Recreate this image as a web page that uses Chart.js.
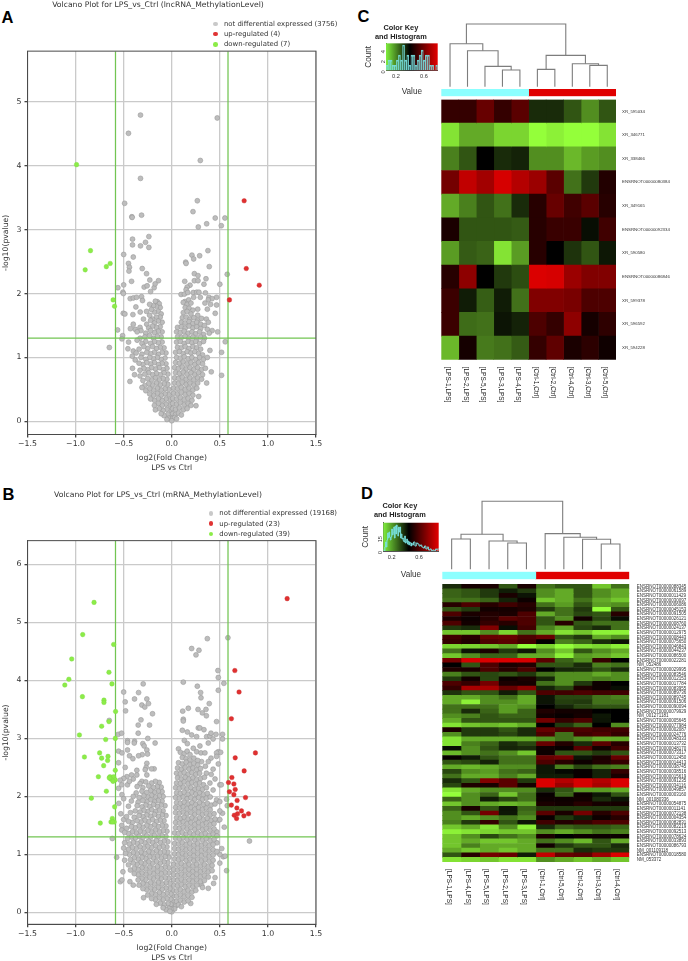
<!DOCTYPE html>
<html><head><meta charset="utf-8">
<script src="https://cdn.jsdelivr.net/npm/chart.js@4/dist/chart.umd.js"></script>
<style>
html,body{margin:0;padding:0;background:#fff;width:688px;height:961px;overflow:hidden}
canvas{position:absolute}
.t{position:absolute;white-space:nowrap;color:#333;font:6.9px "DejaVu Sans"}
.p{position:absolute;color:#000;font:bold 16.5px "Liberation Sans";line-height:16.5px}
.d{position:absolute;width:4.6px;height:4.6px;border-radius:50%}
</style></head><body>
<div class="p" style="left:1.5px;top:9px">A</div>
<div class="p" style="left:2.5px;top:486px">B</div>
<div class="p" style="left:357.5px;top:7.5px">C</div>
<div class="p" style="left:361px;top:485px">D</div>
<script>
const foldCut=[-0.585,0.585], pCut=1.301;
const xTicks=[-1.5,-1,-0.5,0,0.5,1,1.5];
const legendA=['not differential expressed (3756)','up-regulated (4)','down-regulated (7)'];
const legendB=['not differential expressed (19168)','up-regulated (23)','down-regulated (39)'];
const titleA='Volcano Plot for LPS_vs_Ctrl (lncRNA_MethylationLevel)';
const titleB='Volcano Plot for LPS_vs_Ctrl (mRNA_MethylationLevel)';
const aUp=[.753,3.45,.775,2.39,.91,2.13,.6,1.9];
const aDown=[-.99,4.015,-.845,2.67,-.9,2.37,-.68,2.42,-.64,2.47,-.61,1.9,-.595,1.8];
const aGrey=[-.325,4.79,-.45,4.505,.473,4.745,.297,4.08,-.325,3.8,.266,3.45,-.49,3.41,.221,3.28,-.415,3.2,-.412,3.19,-.314,3.225,.452,3.18,.553,3.18,.363,3.09,.515,3.06,.276,3.04,-.408,2.85,-.238,2.89,
-.408,2.76,-.325,2.745,-.273,2.8,-.238,2.72,-.5,2.61,-.4,2.57,-.45,2.47,-.44,2.41,-.445,2.35,-.307,2.39,-.262,2.31,-.418,2.19,-.228,2.21,-.138,2.2,-.5,2.135,-.56,2.09,-.287,2.1,-.256,2.12,-.183,2.09,-.173,2.15,-.508,2.02,-.503,2,-.22,2.03,-.314,1.95,-.432,1.92,-.4,1.93,-.366,1.94,-.304,1.89,
.376,2.67,.21,2.6,.29,2.59,.228,2.54,.145,2.49,.149,2.47,.39,2.42,.577,2.3,.235,2.31,.273,2.28,.356,2.23,.135,2.19,.235,2.2,.273,2.2,.335,2.145,.5,2.145,.19,2.13,.16,2.1,.149,2.06,.097,1.985,.131,1.99,.166,2.015,.224,2.015,.26,2.02,.283,2.02,.35,2.01,.297,1.94,.466,1.94,.387,1.94,.42,1.92,.38,1.9,.138,1.875,.176,1.9,.228,1.94,.345,1.85,.404,1.83,.466,1.82,.37,1.755,.452,1.69,.27,1.755,
-.504,1.69,-.487,1.68,-.404,1.67,-.373,1.79,-.328,1.71,-.262,1.72,-.294,1.6,-.563,1.43,-.511,1.34,-.518,1.29,-.649,1.155,-.449,1.24,-.456,1.135,-.435,.625,-.408,.83,-.387,.73,.477,1.4,.556,1.245,.518,1.08,.518,.72,.397,1.11,.411,.775,.363,.6,.252,.245,.28,.39,
-.15,1.87,-.13,1.84,-.17,1.88,-.12,1.78,-.16,1.8,-.19,1.81,-.23,1.83,-.14,1.72,-.18,1.71,-.21,1.75,-.11,1.68,-.12,1.63,-.16,1.63,-.2,1.6,-.23,1.66,-.1,1.55,-.14,1.57,-.18,1.54,-.22,1.58,-.26,1.52,
-.12,1.48,-.16,1.47,-.2,1.49,-.24,1.46,-.33,1.47,-.38,1.44,-.4,1.52,-.1,1.4,-.14,1.41,-.18,1.39,-.22,1.42,-.27,1.38,-.32,1.42,-.36,1.4,-.43,1.45,-.11,1.32,-.15,1.33,-.19,1.3,-.23,1.34,-.28,1.32,-.33,1.3,-.1,1.24,-.14,1.23,-.18,1.25,-.22,1.22,-.27,1.25,-.31,1.22,-.36,1.27,
-.08,1.15,-.12,1.16,-.16,1.14,-.2,1.17,-.25,1.14,-.29,1.17,-.34,1.13,-.4,1.1,-.06,1.07,-.1,1.08,-.14,1.05,-.18,1.08,-.22,1.06,-.26,1.08,-.31,1.05,-.37,1.07,-.07,.99,-.11,.97,-.15,1,-.19,.98,-.23,1,-.27,.97,-.32,1,-.41,1.02,-.38,.96,
-.06,.9,-.1,.91,-.14,.89,-.18,.92,-.22,.9,-.26,.92,-.3,.89,-.34,.91,-.05,.83,-.09,.81,-.13,.84,-.17,.82,-.21,.84,-.25,.81,-.29,.83,-.33,.8,-.04,.74,-.08,.76,-.12,.73,-.16,.75,-.2,.73,-.24,.76,-.28,.74,-.33,.71,
-.05,.66,-.09,.67,-.13,.65,-.17,.68,-.21,.65,-.25,.67,-.3,.64,-.04,.58,-.08,.59,-.12,.57,-.16,.6,-.2,.57,-.24,.59,-.28,.56,-.03,.5,-.07,.51,-.11,.49,-.15,.52,-.19,.49,-.23,.51,-.27,.48,-.31,.53,
-.03,.42,-.07,.43,-.11,.41,-.15,.44,-.19,.41,-.23,.43,-.02,.34,-.06,.35,-.1,.33,-.14,.36,-.18,.33,-.22,.35,-.02,.26,-.06,.27,-.1,.25,-.14,.28,-.18,.25,-.01,.18,-.05,.19,-.09,.17,-.13,.2,-.17,.18,-.01,.1,-.04,.11,-.08,.09,-.11,.12,-.01,.04,-.03,.05,-.05,.03,
.12,1.86,.16,1.83,.2,1.85,.14,1.78,.18,1.77,.22,1.74,.12,1.7,.16,1.72,.2,1.68,.27,1.66,.11,1.62,.15,1.63,.19,1.6,.23,1.62,.27,1.58,.31,1.61,.36,1.6,.38,1.55,.1,1.55,.14,1.54,.18,1.56,.22,1.53,.26,1.55,.3,1.52,.34,1.5,
.06,1.47,.1,1.48,.14,1.46,.18,1.49,.22,1.46,.26,1.48,.3,1.45,.37,1.44,.42,1.42,.05,1.4,.09,1.39,.13,1.41,.17,1.38,.21,1.4,.25,1.37,.29,1.4,.33,1.36,.39,1.38,.06,1.32,.1,1.31,.14,1.33,.18,1.3,.22,1.32,.26,1.29,.3,1.32,.34,1.3,
.05,1.24,.09,1.25,.13,1.22,.17,1.25,.21,1.23,.25,1.25,.29,1.22,.33,1.25,.06,1.16,.1,1.15,.14,1.17,.18,1.14,.22,1.17,.26,1.15,.3,1.13,.04,1.08,.08,1.09,.12,1.06,.16,1.09,.2,1.07,.24,1.09,.28,1.06,.32,1.04,
.05,1,.09,.99,.13,1.01,.17,.98,.21,1,.25,.97,.29,1,.33,.97,.37,1,.04,.92,.08,.91,.12,.93,.16,.9,.2,.92,.24,.89,.28,.92,.32,.9,.03,.84,.07,.83,.11,.85,.15,.82,.19,.84,.23,.81,.27,.84,.31,.81,.35,.83,
.04,.76,.08,.75,.12,.77,.16,.74,.2,.76,.24,.73,.28,.76,.32,.73,.03,.68,.07,.67,.11,.69,.15,.66,.19,.68,.23,.65,.27,.68,.31,.66,.03,.6,.07,.59,.11,.61,.15,.58,.19,.6,.23,.57,.27,.6,.02,.52,.06,.51,.1,.53,.14,.5,.18,.52,.22,.49,.26,.52,
.02,.44,.06,.43,.1,.45,.14,.42,.18,.44,.22,.41,.01,.36,.05,.35,.09,.37,.13,.34,.17,.36,.21,.33,.01,.28,.05,.27,.09,.29,.13,.26,.17,.28,.2,.25,.01,.2,.04,.19,.08,.21,.12,.18,.16,.2,.01,.12,.04,.11,.07,.13,.1,.1,.01,.05,.03,.06,.05,.04,0,.01];
const bUp=[1.2,5.41,.656,4.17,.7,3.8,.62,3.34,.87,2.75,.66,2.665,.753,2.44,.625,2.325,.59,2.24,.646,2.215,.66,2.12,.6,2.08,.646,2.03,.767,1.98,.68,1.93,.62,1.85,.677,1.8,.725,1.75,.798,1.7,.684,1.7,.65,1.675,.75,1.665,.674,1.62];
const bDown=[-.808,5.345,-.926,4.79,-.604,4.62,-1.04,4.37,-.653,4.14,-1.07,4.02,-1.112,3.92,-.622,3.94,-.929,3.72,-.705,3.66,-.705,3.62,-.584,3.465,-.653,3.29,-.729,3.21,-.96,3.06,-.687,2.98,-.587,3,-.75,2.75,-.663,2.69,-.908,2.68,-.729,2.66,-.667,2.62,-.708,2.53,-.587,2.45,-.763,2.34,-.642,2.34,-.604,2.34,-.635,2.3,-.587,2.285,-.611,2.26,-.65,2.32,-.68,2.09,-.836,1.97,-.594,1.82,-.618,1.62,-.743,1.54,-.632,1.56,-.598,1.56,-.615,1.56];
const bGrey=[.37,4.72,.584,4.735,.207,4.55,.283,4.52,.252,4.44,.48,4.17,.484,4.05,.542,3.95,.12,3.97,.266,3.9,.484,3.83,.3,3.79,.304,3.7,.39,3.6,.172,3.52,.114,3.47,.273,3.5,.356,3.5,.318,3.44,.36,3.39,.12,3.33,
-.297,3.94,-.5,3.8,-.345,3.79,-.484,3.63,-.387,3.68,-.259,3.68,-.242,3.6,-.311,3.575,-.28,3.54,-.48,3.475,-.2,3.425,-.32,3.32,-.65,3.31,
-.349,3.23,-.231,3.23,-.556,3.07,-.522,3.09,-.349,3.09,-.249,3,-.46,2.96,-.46,2.93,-.387,2.95,-.39,2.92,-.301,2.91,-.173,2.92,-.287,2.87,-.46,2.8,-.553,2.78,-.518,2.75,-.259,2.8,-.307,2.72,-.345,2.7,-.439,2.7,-.404,2.65,-.252,2.73,-.553,2.58,-.259,2.57,-.363,2.45,-.484,2.5,-.183,2.475,-.21,2.475,-.266,2.5,-.276,2.46,-.418,2.37,-.466,2.34,-.5,2.31,-.535,2.28,-.363,2.37,-.259,2.37,-.311,2.26,-.553,2.14,-.518,2.03,-.46,2.2,-.52,2.2,-.4,2.3,-.44,2.26,-.5,1.96,-.55,1.88,-.53,1.7,-.52,1.5,-.5,1.6,-.52,1.42,-.618,1.275,-.573,.95,-.508,.7,-.535,.53,-.518,.56,-.293,.253,-.435,.53,-.4,.47,
.12,3.3,.466,3.29,.11,3.14,.162,3.11,.276,3.18,.293,3.18,.335,3.15,.207,3.06,.259,3.03,.363,3.03,.397,3.04,.408,3.09,.46,3.07,.528,3.07,.528,2.99,.131,2.965,.162,2.91,.293,2.87,.38,2.92,.43,2.99,.484,2.77,.508,2.76,.466,2.75,.07,2.82,.224,2.83,.259,2.77,.304,2.75,.345,2.75,.408,2.66,.466,2.69,.484,2.56,.43,2.47,.38,2.6,.35,2.52,.31,2.6,.397,2.23,.5,2.2,.515,2.2,.43,2.11,.466,1.94,.5,1.91,.57,1.95,.577,1.84,.528,1.71,.484,1.59,.466,1.39,.546,1.47,.808,1.23,.57,.72,.535,.96,.555,.97,.5,.85,.45,.6,.435,.5,.38,.415,.31,.47,.197,.155,.45,2.3,.41,2.38,.36,2.4,.5,1.6,.5,1.75,.47,1.2,.52,1.1,.5,1,
.09,2.76,.13,2.74,.16,2.78,.19,2.72,.11,2.67,.15,2.65,.19,2.63,.23,2.66,.27,2.62,.07,2.58,.11,2.56,.15,2.59,.19,2.55,.23,2.57,.27,2.54,.06,2.49,.1,2.47,.14,2.5,.18,2.47,.22,2.49,.26,2.46,.3,2.48,.05,2.4,.09,2.39,.13,2.41,.17,2.38,.21,2.41,.25,2.38,.29,2.4,.06,2.32,.1,2.3,.14,2.33,.18,2.3,.22,2.32,.26,2.29,.3,2.31,.34,2.33,
.05,2.23,.09,2.22,.13,2.25,.17,2.22,.21,2.24,.25,2.21,.29,2.23,.33,2.2,.04,2.15,.08,2.14,.12,2.16,.16,2.13,.2,2.15,.24,2.12,.28,2.14,.32,2.12,.36,2.15,.05,2.06,.09,2.05,.13,2.07,.17,2.04,.21,2.07,.25,2.04,.29,2.06,.33,2.03,.37,2.05,.04,1.98,.08,1.97,.12,1.99,.16,1.96,.2,1.98,.24,1.95,.28,1.98,.32,1.95,.36,1.97,.4,1.99,
.05,1.89,.09,1.88,.13,1.9,.17,1.87,.21,1.89,.25,1.86,.29,1.89,.33,1.86,.37,1.88,.41,1.85,.45,1.87,.04,1.81,.08,1.8,.12,1.82,.16,1.79,.2,1.81,.24,1.78,.28,1.81,.32,1.78,.36,1.8,.4,1.77,.04,1.72,.08,1.71,.12,1.73,.16,1.7,.2,1.72,.24,1.69,.28,1.72,.32,1.69,.36,1.71,.4,1.68,.44,1.7,.05,1.63,.09,1.62,.13,1.64,.17,1.61,.21,1.63,.25,1.6,.29,1.63,.33,1.6,.37,1.62,.41,1.59,.45,1.61,
.04,1.55,.08,1.54,.12,1.56,.16,1.53,.2,1.55,.24,1.52,.28,1.55,.32,1.52,.36,1.54,.4,1.51,.44,1.53,.04,1.46,.08,1.45,.12,1.47,.16,1.44,.2,1.46,.24,1.43,.28,1.46,.32,1.43,.36,1.45,.4,1.42,.44,1.44,.03,1.37,.07,1.36,.11,1.38,.15,1.35,.19,1.37,.23,1.34,.27,1.37,.31,1.34,.35,1.36,.39,1.33,.43,1.35,.47,1.32,
.04,1.28,.08,1.27,.12,1.29,.16,1.26,.2,1.28,.24,1.25,.28,1.28,.32,1.25,.36,1.27,.4,1.24,.44,1.26,.03,1.19,.07,1.18,.11,1.2,.15,1.17,.19,1.19,.23,1.16,.27,1.19,.31,1.16,.35,1.18,.39,1.15,.43,1.17,.03,1.1,.07,1.09,.11,1.11,.15,1.08,.19,1.1,.23,1.07,.27,1.1,.31,1.07,.35,1.09,.39,1.06,.43,1.08,.47,1.05,
.03,1.01,.07,1,.11,1.02,.15,.99,.19,1.01,.23,.98,.27,1.01,.31,.98,.35,1,.39,.97,.43,.99,.03,.92,.07,.91,.11,.93,.15,.9,.19,.92,.23,.89,.27,.92,.31,.89,.35,.91,.39,.88,.43,.9,.02,.83,.06,.82,.1,.84,.14,.81,.18,.83,.22,.8,.26,.83,.3,.8,.34,.82,.38,.79,.42,.81,
.02,.74,.06,.73,.1,.75,.14,.72,.18,.74,.22,.71,.26,.74,.3,.71,.34,.73,.38,.7,.42,.72,.02,.65,.06,.64,.1,.66,.14,.63,.18,.65,.22,.62,.26,.65,.3,.62,.34,.64,.38,.61,.02,.56,.06,.55,.1,.57,.14,.54,.18,.56,.22,.53,.26,.56,.3,.53,.34,.55,.02,.47,.06,.46,.1,.48,.14,.45,.18,.47,.22,.44,.26,.47,.32,.43,
.01,.38,.05,.37,.09,.39,.13,.36,.17,.38,.21,.35,.25,.38,.01,.29,.05,.28,.09,.3,.13,.27,.17,.29,.21,.26,.01,.2,.05,.19,.09,.21,.13,.18,.17,.2,.01,.12,.04,.11,.07,.13,.1,.1,.01,.05,.03,.06,0,.01,
-.13,2.24,-.17,2.26,-.21,2.23,-.27,2.25,-.33,2.22,-.11,2.16,-.15,2.17,-.19,2.15,-.24,2.18,-.3,2.15,-.36,2.17,-.1,2.08,-.14,2.09,-.18,2.07,-.22,2.1,-.26,2.07,-.31,2.09,-.37,2.06,-.09,2,-.13,2.01,-.17,1.99,-.21,2.02,-.25,1.99,-.29,2.01,-.34,1.98,-.4,2,
-.1,1.92,-.14,1.93,-.18,1.91,-.22,1.94,-.26,1.91,-.3,1.93,-.35,1.9,-.42,1.92,-.07,1.84,-.11,1.85,-.15,1.83,-.19,1.86,-.23,1.83,-.27,1.85,-.31,1.82,-.36,1.84,-.45,1.83,-.09,1.75,-.13,1.76,-.17,1.74,-.21,1.77,-.25,1.74,-.29,1.76,-.33,1.73,-.38,1.75,-.43,1.72,
-.06,1.67,-.1,1.68,-.14,1.66,-.18,1.69,-.22,1.66,-.26,1.68,-.3,1.65,-.34,1.67,-.39,1.64,-.47,1.65,-.08,1.58,-.12,1.59,-.16,1.57,-.2,1.6,-.24,1.57,-.28,1.59,-.32,1.56,-.36,1.58,-.41,1.55,-.45,1.57,-.06,1.49,-.1,1.5,-.14,1.48,-.18,1.51,-.22,1.48,-.26,1.5,-.3,1.47,-.34,1.49,-.38,1.46,-.42,1.48,-.47,1.45,
-.05,1.4,-.09,1.41,-.13,1.39,-.17,1.42,-.21,1.39,-.25,1.41,-.29,1.38,-.33,1.4,-.37,1.37,-.41,1.39,-.45,1.36,-.49,1.38,-.06,1.31,-.1,1.32,-.14,1.3,-.18,1.33,-.22,1.3,-.26,1.32,-.3,1.29,-.34,1.31,-.38,1.28,-.42,1.3,-.46,1.27,-.04,1.22,-.08,1.23,-.12,1.21,-.16,1.24,-.2,1.21,-.24,1.23,-.28,1.2,-.32,1.22,-.36,1.19,-.4,1.21,-.44,1.18,-.49,1.2,
-.05,1.13,-.09,1.14,-.13,1.12,-.17,1.15,-.21,1.12,-.25,1.14,-.29,1.11,-.33,1.13,-.37,1.1,-.41,1.12,-.45,1.09,-.5,1.11,-.04,1.04,-.08,1.05,-.12,1.03,-.16,1.06,-.2,1.03,-.24,1.05,-.28,1.02,-.32,1.04,-.36,1.01,-.4,1.03,-.44,1,-.48,1.02,-.03,.95,-.07,.96,-.11,.94,-.15,.97,-.19,.94,-.23,.96,-.27,.93,-.31,.95,-.35,.92,-.39,.94,-.43,.91,-.49,.9,
-.04,.86,-.08,.87,-.12,.85,-.16,.88,-.2,.85,-.24,.87,-.28,.84,-.32,.86,-.36,.83,-.4,.85,-.45,.82,-.03,.77,-.07,.78,-.11,.76,-.15,.79,-.19,.76,-.23,.78,-.27,.75,-.31,.77,-.35,.74,-.39,.76,-.43,.73,-.03,.68,-.07,.69,-.11,.67,-.15,.7,-.19,.67,-.23,.69,-.27,.66,-.31,.68,-.35,.65,-.39,.67,-.03,.59,-.07,.6,-.11,.58,-.15,.61,-.19,.58,-.23,.6,-.27,.57,-.31,.59,-.35,.56,
-.02,.5,-.06,.51,-.1,.49,-.14,.52,-.18,.49,-.22,.51,-.26,.48,-.3,.5,-.34,.47,-.02,.41,-.06,.42,-.1,.4,-.14,.43,-.18,.4,-.22,.42,-.26,.39,-.3,.41,-.01,.32,-.05,.33,-.09,.31,-.13,.34,-.17,.31,-.21,.33,-.25,.3,-.01,.23,-.05,.24,-.09,.22,-.13,.25,-.17,.22,-.21,.24,-.01,.14,-.04,.15,-.08,.13,-.12,.16,-.16,.14,-.01,.06,-.03,.07,-.06,.05,-.09,.08,-.02,.02];
const rowsC=['XR_595034','XR_346771','XR_338466','ENSRNOT00000080384','XR_349165','ENSRNOT00000092334','XR_590580','ENSRNOT00000086846','XR_599378','XR_596592','XR_594228'];
const colsC=['[LPS-1,LPS]','[LPS-2,LPS]','[LPS-5,LPS]','[LPS-3,LPS]','[LPS-4,LPS]','[Ctrl-1,Ctrl]','[Ctrl-2,Ctrl]','[Ctrl-4,Ctrl]','[Ctrl-3,Ctrl]','[Ctrl-5,Ctrl]'];
const heatC=[
[2,2,4,2,3.5,-1.5,-1.5,-3,-5,-3],
[-8,-6,-6,-7.5,-7.5,-9,-8.5,-9,-9,-8],
[-4.5,-3,0,-1.5,-1.2,-5,-5,-6.5,-5.5,-5],
[4.5,7.5,6.3,8.3,7,6,3.5,-4,-2,1.3],
[-6,-4.5,-3,-4,-1.5,1.5,4,2.5,3.5,1.5],
[1,-3,-3,-3,-3.2,1.5,2.2,2.2,-.5,2.5],
[-5.5,-3.2,-3.5,-8,-5.5,1.5,0,-1.8,-3,-.8],
[1.5,5.5,0,-2,-2.7,8.5,8.3,6,5,5],
[2.3,-1,-3.3,-1,-4,5,5,4.7,3,3],
[2.3,-3.8,-4,-.7,-1.2,3,2,5.5,.8,1.8],
[-6.5,.8,-4.3,-4,-3.2,2,3.7,1,1.7,.6]];
const rowsD=['ENSRNOT00000088345','ENSRNOT00000061589','ENSRNOT00000011429','ENSRNOT00000030097','ENSRNOT00000006086','ENSRNOT00000045153','ENSRNOT00000091505','ENSRNOT00000026121','ENSRNOT00000008760','ENSRNOT00000024137','ENSRNOT00000012975','ENSRNOT00000008443','ENSRNOT00000075650','ENSRNOT00000046843','ENSRNOT00000044237','ENSRNOT00000086500','ENSRNOT00000022281','NM_052486','ENSRNOT00000029995','ENSRNOT00000083546','ENSRNOT00000012153','ENSRNOT00000017784','ENSRNOT00000083955','ENSRNOT00000089736','ENSRNOT00000089745','ENSRNOT00000091506','ENSRNOT00000090094','ENSRNOT00000079929','NM_001271181','ENSRNOT00000005645','ENSRNOT00000077984','ENSRNOT00000002087','ENSRNOT00000024776','ENSRNOT00000048333','ENSRNOT00000013732','ENSRNOT00000048170','ENSRNOT00000073317','ENSRNOT00000012450','ENSRNOT00000014413','ENSRNOT00000038745','ENSRNOT00000038516','ENSRNOT00000015619','ENSRNOT00000091235','ENSRNOT00000034116','ENSRNOT00000049857','ENSRNOT00000003160','NM_001080336','ENSRNOT00000054875','ENSRNOT00000011141','ENSRNOT00000072138','ENSRNOT00000004354','ENSRNOT00000082831','ENSRNOT00000082219','ENSRNOT00000092513','ENSRNOT00000078624','ENSRNOT00000033893','ENSRNOT00000086793','NM_001109118','ENSRNOT00000018580','NM_053372'];
const colsD=['[LPS-1,LPS]','[LPS-4,LPS]','[LPS-5,LPS]','[LPS-2,LPS]','[LPS-3,LPS]','[Ctrl-1,Ctrl]','[Ctrl-5,Ctrl]','[Ctrl-2,Ctrl]','[Ctrl-3,Ctrl]','[Ctrl-4,Ctrl]'];
const heatD=[
[-1.5,.8,1,-3,1,-4,-3,-3,-7,-4],
[-3.5,-3,-2,-1,-2,-5,-6,-3,-5,-6],
[-3.5,-3,-2,1,-.7,-5,-6,-3,-5,-6],
[-4,-4,-3.5,-1.2,.5,-7,-6,-4,-6,-7],
[1.5,3,1.5,2.5,1.5,-4,-5.5,-3,-5.5,-5],
[-3,-2,.7,.8,1.2,-2,-4,-2,-9,-3],
[3,1,1.3,1,3,-6,-4,-2.5,-3,1.5],
[1,.5,1.5,3.5,3,-3,-5,.7,-2.5,-.5],
[3,.7,2,1.5,3,-3,1.5,-3,-4,-4],
[-2,-1.5,5,-.5,2.5,-4.5,-6,-2.5,-1.5,-4],
[-7,-7,-5,-7.5,-4,-6,-8,-7,-8.5,-8.5],
[2.5,1.5,4,4,3,4,-3,-2,-6,-5],
[2,1.2,3,3.5,2.5,0,-4.5,-3.5,-1.5,-.7],
[-7.5,-7.5,-7,-6,-9,-7.5,-9.5,-8,-7.5,-8.5],
[-4,-.7,1,-2,-.8,-5,-7,-3,-5,-6],
[-7,-5,-3.5,-3.5,-6,-6,-8.5,-5.5,-6,-7],
[4.5,8.3,8.5,8.5,8.3,3.5,-3.5,-5,2,0],
[0,-3,3,1,1.3,-3,-3,-1.5,-4.5,-4],
[1.2,1,3,1.5,3,0,-1.3,-1.5,-3,-1.5],
[-4.5,-3,-2.5,-3,-2,-4,-5,-5,-6,-5],
[-2,.7,-2.5,.5,1,-1.3,-5,-5,-4.5,-5],
[3,2,4.5,1,.8,-4,-5,-2,.5,0],
[2,6.5,6.5,4,5.5,-1.2,-2.5,1.2,.5,-.5],
[-1.8,-3,-3,-1,-3,3,2.5,3,2.5,2.5],
[-6,-6,-5,-4,-6,-.7,-2.5,-2.5,-4,-4.5],
[-6,-8.5,-5,-5,-6,-.7,-2.2,-2,-4,-4],
[-4,-4,-4,-5.5,-5,0,-1.3,-2.5,-3,-3],
[-4,-1.5,-3.5,-5.5,-3.5,1.2,.7,.7,0,0],
[-5,-4.5,-3,-3.5,-3.5,.7,.3,.8,-.8,0],
[-6,-3,-3,-3,-3,4.5,2,3,-.7,0],
[-8,-7,-6.5,-7,-6,0,-2,-3.5,0,-5],
[1,-2,-2,-3,-1.5,4,2.8,3,2.5,2.5],
[-5,-2,-2,-2.5,-1.5,3,-4,2.5,3,2],
[-8,-6,-6,-6,-6,-5,-4,-5,-6,-6],
[-8,-4.5,-3.5,-1.5,-2.5,4,1.3,-1.5,3.5,1.5],
[-.5,-5,-3,-1.3,-1.5,.6,.3,3.5,.7,2.5],
[-6.5,-5,-4,-5,-7,.5,-3,-3,-2,-3],
[.3,-1,-3,-4,-4,4,4.5,-.7,1,4],
[-3,-2.5,-1.2,-4,-4,3,1.5,.5,1.2,2],
[-6,-6.5,-6,-5,-5,-.8,-4.5,-2.5,-4,-4.5],
[-2.5,-5,-5.5,-4,-3.5,-.8,-.3,.3,-1.2,2],
[-4,-6,-6,-4.5,-6,-1,-1,.3,-1.2,1],
[-1.5,-3,5,3.5,-2,8.5,7,8.3,7,8.5],
[-2.5,1.2,1,3.5,.8,8.5,6,8.3,6.5,8.5],
[-8,-6,-5,-5,-5,-1.5,-3,-5.5,-5.5,-6],
[-9.5,-5,-3.5,-7,-4,.3,-3.5,.5,-.8,-3],
[-3.5,-5,-1,-2.5,-4,.5,.5,.7,-1.5,-.7],
[-7,-5,-6,-6.5,-6,1,.7,1.5,.8,.8],
[-3.5,1,-3,-.7,-3.5,-2,-2,-2,-2,-2],
[-5,-3,4.5,-.8,-4,3.5,1,4.5,1.5,3],
[-5,-6,-5,-4,-5,.4,-2,-1,.5,1.5],
[-4.5,-2,2,-3,-.8,2.5,1.3,2,3,3],
[-7,-6,-8,-5,-8.5,-1.5,-3.5,-3,-3,-3.5],
[-8.5,-8,-7.5,-7,-7,-5,-6,-5,-4,-4.5],
[-7,-5,-2.5,-4,-5,1,0,.5,.5,.5],
[-7,-6,-7,-7,-6,-4,-5,-6.5,-3,-6],
[-7,-4.5,-6,-6,-6,.7,-2,-3,-3,-1.5],
[-6,-7,-6,-7,-6,-4,-4,-1.5,-2,-2],
[-3,1.5,4.5,4,-1,7.5,4,3.5,6,8.5],
[-8,-7.5,-7,-8,-8,-5,-6,-7,-6,-7]];
// merges: [child, child, height]; child >=0 is a leaf, child <0 is merge -(n+1)
const dendroC=[[3,4,50],[2,-1,61],[1,-2,108],[0,-3,129],[5,6,52],[8,9,64],[7,-6,69],[-5,-7,94],[-4,-8,188]];
const dendroD=[[0,1,91],[3,4,79],[2,-2,85],[-1,-3,105],[8,9,76],[7,-5,90],[6,-6,96],[5,-7,107],[-4,-8,204]];
const histBinsC=[.072,.101,.131,.16,.19,.22,.249,.279,.308,.338,.368,.397,.427,.456,.486,.516,.545,.575,.604,.634,.664,.693,.723,.752,.782];
const histCountsC=[1,2,2,1,1,2,3,2,5,2,3,1,3,3,1,2,3,4,2,3,3,1,1,0,1];
const histBinsD=[.08,.09,.1,.11,.12,.13,.14,.15,.16,.17,.18,.19,.2,.21,.22,.23,.24,.25,.26,.27,.28,.29,.3,.31,.32,.33,.34,.35,.36,.37,.38,.39,.4,.41,.42,.43,.44,.45,.46,.47,.48,.49,.5,.52,.54,.56,.58,.6,.62,.64,.66,.68,.7,.72,.74,.76,.78,.8,.82,.84,.86,.88];
const histCountsD=[1,0,4,9,4,11,18,13,19,14,11,14,22,16,18,24,13,25,17,26,22,15,24,19,24,13,17,12,13,10,9,15,8,9,12,7,10,6,9,8,5,8,6,9,5,8,7,5,6,4,3,5,2,4,1,2,0,1,0,2,1,3];
const keyTitle=['Color Key','and Histogram'];

const MINUS='\u2212';
const dv='"DejaVu Sans"', ls='"Liberation Sans"';
Chart.defaults.animation=false;
Chart.defaults.responsive=false;
Chart.defaults.plugins.legend.display=false;
Chart.defaults.plugins.tooltip.enabled=false;
Chart.defaults.layout.autoPadding=false;

function mk(left,top,w,h,cfg){
  const c=document.createElement('canvas');
  c.width=w;c.height=h;c.style.left=left+'px';c.style.top=top+'px';c.style.width=w+'px';c.style.height=h+'px';
  document.body.appendChild(c);
  return new Chart(c.getContext('2d'),cfg);
}
const pairs=a=>{const o=[];for(let i=0;i<a.length;i+=2)o.push({x:a[i],y:a[i+1]});return o};
const frame={id:'frame',afterDatasetsDraw(ch){const a=ch.chartArea,g=ch.ctx;g.save();g.strokeStyle='#4a4a4a';g.lineWidth=1;g.strokeRect(a.left,a.top,a.right-a.left,a.bottom-a.top);g.restore();}};

function volcano(left,top,w,h,areaTop,areaBottom,ymax,title,titlePadTop,grey,up,down,ticksY){
  const ymin=-0.205;
  const vline=x=>({type:'scatter',showLine:true,data:[{x,y:ymin},{x,y:ymax}],borderColor:'#72c552',borderWidth:1.25,pointRadius:0,order:2});
  mk(left,top,w,h,{type:'scatter',data:{datasets:[
    {data:pairs(down),backgroundColor:'#8cec48',borderColor:'#7ad83e',borderWidth:.4,pointRadius:2.3,order:0},
    {data:pairs(up),backgroundColor:'#e03030',borderColor:'#c82a2a',borderWidth:.4,pointRadius:2.3,order:0},
    vline(foldCut[0]),vline(foldCut[1]),
    {type:'scatter',showLine:true,data:[{x:-1.5,y:pCut},{x:1.5,y:pCut}],borderColor:'#72c552',borderWidth:1.25,pointRadius:0,order:2},
    {data:pairs(grey),backgroundColor:'#bdbdbd',borderColor:'#989898',borderWidth:.6,pointRadius:2.45,order:3}
  ]},plugins:[frame],options:{
    layout:{padding:{left:0,right:w-316,top:0,bottom:0}},
    plugins:{title:{display:true,text:title,color:'#333',font:{family:dv,size:7.7,weight:'normal'},padding:{top:titlePadTop,bottom:areaTop-9.6-titlePadTop}}},
    scales:{
      x:{type:'linear',min:-1.5,max:1.5,afterBuildTicks(s){s.ticks=xTicks.map(value=>({value}))},
        afterFit(s){s.height=h-areaBottom},
        grid:{color:'#cacaca',lineWidth:1.3,tickLength:3,tickColor:'#444'},border:{color:'#4a4a4a'},
        ticks:{color:'#333',font:{family:dv,size:7.8},padding:1.5,maxRotation:0,callback:v=>v.toFixed(1).replace('-',MINUS)},
        title:{display:true,text:['log2(Fold Change)','LPS vs Ctrl'],color:'#333',font:{family:dv,size:7.7,lineHeight:1.28},padding:{top:1,bottom:0}}},
      y:{type:'linear',min:ymin,max:ymax,afterBuildTicks(s){s.ticks=ticksY.map(value=>({value}))},
        afterFit(s){s.width=27.5},
        grid:{color:'#cacaca',lineWidth:1.3,tickLength:3,tickColor:'#444'},border:{color:'#4a4a4a'},
        ticks:{color:'#333',font:{family:dv,size:7.8},padding:3,callback:v=>String(v)},
        title:{display:true,text:'-log10(pvalue)',color:'#333',font:{family:dv,size:7.7},padding:{top:1,bottom:0}}}
    }}});
}
volcano(0,0,334,473,51.5,434.5,5.79,titleA,0,aGrey,aUp,aDown,[0,1,2,3,4,5]);
volcano(0,480,334,483,61,444.3,6.41,titleB,10,bGrey,bUp,bDown,[0,1,2,3,4,5,6]);

function legend(dotX,textX,ys,labels){
  const cols=['#c9c9c9','#e03434','#8cec48'];
  labels.forEach((t,i)=>{
    const d=document.createElement('div');d.className='d';d.style.cssText=`left:${dotX-2.3}px;top:${ys[i]-2.3}px;background:${cols[i]}`;document.body.appendChild(d);
    const s=document.createElement('div');s.className='t';s.textContent=t;s.style.left=textX+'px';s.style.top=(ys[i]-4.2)+'px';document.body.appendChild(s);
  });
}
legend(215.3,224,[24,34,44.3],legendA);
legend(211,219.3,[513.3,523.7,534],legendB);

function heatColor(v){
  const t=Math.min(Math.abs(v)/9,1);
  return v<0?`rgb(${Math.round(148*t)},${Math.round(255*t)},${Math.round(58*t)})`:`rgb(${Math.round(232*t)},0,0)`;
}
function heatmap(left,top,w,h,aL,aR,aT,aB,matrix,rows,cols,labPad,fs,labelDy,labelDx){
  const colLabels={id:'colLabels',afterDraw(ch){const g=ch.ctx,sx=ch.scales.x;g.save();g.font=`6.5px ${ls}`;g.fillStyle='#222';g.textBaseline='middle';g.textAlign='left';
    cols.forEach((t,i)=>{g.save();g.translate(sx.getPixelForValue(i+.5)+labelDx,ch.chartArea.bottom+labelDy);g.rotate(Math.PI/2);g.fillText(t,0,0);g.restore();});g.restore();}};
  mk(left,top,w,h,{type:'bar',data:{labels:rows,datasets:cols.map((c,j)=>({label:c,data:rows.map(()=>[j,j+1]),backgroundColor:matrix.map(r=>heatColor(r[j]))}))},
    plugins:[colLabels],options:{indexAxis:'y',barPercentage:1,categoryPercentage:1,grouped:false,
      layout:{padding:{left:aL,top:aT,right:0,bottom:0}},
      scales:{
        x:{type:'linear',min:0,max:10,grid:{display:false},border:{display:false},ticks:{display:false},afterFit(s){s.height=h-aB}},
        y:{type:'category',position:'right',afterFit(s){s.width=w-aR},grid:{display:false,drawTicks:false},border:{display:false},
          ticks:{autoSkip:false,color:'#333',font:{family:ls,size:fs},padding:labPad}}
      }}});
}
heatmap(430,90,258,320,11.3,186,9.5,269.7,heatC,rowsC,colsC,6,4.35,7,-2);
heatmap(430,574,258,340,12.3,199.3,9.3,288,heatD,rowsD,colsD,7.4,4.5,7,-3);

function sidebar(left,top,w,h,aL,aR,aT,aB){
  mk(left,top,w,h,{type:'bar',data:{labels:['group'],datasets:[
    {data:[[0,5]],backgroundColor:'#8cffff'},{data:[[5,10]],backgroundColor:'#e00000'}]},
    options:{indexAxis:'y',barPercentage:1,categoryPercentage:1,grouped:false,layout:{padding:{left:aL,right:w-aR,top:aT,bottom:h-aB}},
      scales:{x:{min:0,max:10,display:false},y:{display:false}}}});
}
sidebar(430,85,200,14,11.3,186,4,11.3);
sidebar(430,568,210,14,12.3,199.3,3.7,11.3);

function dendrogram(left,top,w,h,aL,aR,aT,aB,merges,hmax){
  const nodes=[];const pos=c=>c>=0?{x:c+.5,h:0}:nodes[-c-1];
  const datasets=merges.map(m=>{const a=pos(m[0]),b=pos(m[1]);nodes.push({x:(a.x+b.x)/2,h:m[2]});
    return {type:'scatter',showLine:true,data:[{x:a.x,y:a.h},{x:a.x,y:m[2]},{x:b.x,y:m[2]},{x:b.x,y:b.h}],borderColor:'#7d7d7d',borderWidth:1.1,pointRadius:0,clip:false};});
  mk(left,top,w,h,{type:'scatter',data:{datasets},options:{layout:{padding:{left:aL,right:w-aR,top:aT,bottom:h-aB}},
    scales:{x:{type:'linear',min:0,max:10,display:false},y:{type:'linear',min:0,max:hmax,display:false}}}});
}
dendrogram(430,15,200,75,11.3,186,9,71.7,dendroC,188);
dendrogram(430,490,210,85,12.3,199.3,11.3,79.3,dendroD,204);

function colorKey(left,top,w,h,aL,aR,aT,aB,vmin,vmax,cmax,yTicks,titlePad,datasets){
  const grad={id:'grad',beforeDatasetsDraw(ch){const a=ch.chartArea,g=ch.ctx,l=g.createLinearGradient(a.left,0,a.right,0);
    l.addColorStop(0,'#7fee3c');l.addColorStop(.46,'#000');l.addColorStop(1,'#e40000');g.save();g.fillStyle=l;g.fillRect(a.left,a.top,a.right-a.left,a.bottom-a.top);g.restore();}};
  mk(left,top,w,h,{data:{datasets},plugins:[grad],options:{
    layout:{padding:{left:0,right:w-aR,top:0,bottom:0}},
    plugins:{title:{display:true,text:keyTitle,color:'#222',font:{family:ls,size:7.4,weight:'bold',lineHeight:1.3},padding:{top:titlePad,bottom:aT-titlePad-19.2}}},
    scales:{
      x:{type:'linear',min:vmin,max:vmax,afterBuildTicks(s){s.ticks=[.2,.6].map(value=>({value}))},afterFit(s){s.height=h-aB},
        grid:{display:false,tickLength:2,drawTicks:true,tickColor:'#555'},border:{color:'#555'},offset:false,
        ticks:{color:'#333',font:{family:ls,size:5.6},padding:1,maxRotation:0,callback:v=>String(v)},
        title:{display:true,text:'Value',color:'#333',font:{family:ls,size:8.2},padding:{top:1,bottom:0}}},
      y:{type:'linear',min:0,max:cmax,afterBuildTicks(s){s.ticks=yTicks.map(value=>({value}))},afterFit(s){s.width=aL},
        grid:{display:false,tickLength:2,tickColor:'#555'},border:{color:'#555'},
        ticks:{color:'#333',font:{family:ls,size:5.6},padding:1,minRotation:90,maxRotation:90,callback:v=>String(v)},
        title:{display:true,text:'Count',color:'#333',font:{family:ls,size:8.2},padding:{top:0,bottom:1}}}
    }}});
}
colorKey(364,20,94,77,22,73.7,23.3,50.3,.057,.796,5.33,[0,2,4],3,[
 {type:'bar',data:histBinsC.map((x,i)=>({x,y:histCountsC[i]})),backgroundColor:'rgba(120,225,225,.18)',borderColor:'rgba(120,225,225,.9)',borderWidth:1,barPercentage:1,categoryPercentage:1}]);
colorKey(361,498,99,82,22.3,77.7,24.7,53,.077,.888,28.3,[0,15],3,[
 {type:'scatter',showLine:true,stepped:true,data:histBinsD.map((x,i)=>({x,y:histCountsD[i]})),borderColor:'rgba(120,225,225,.95)',borderWidth:1,pointRadius:0}]);
</script>
</body></html>
